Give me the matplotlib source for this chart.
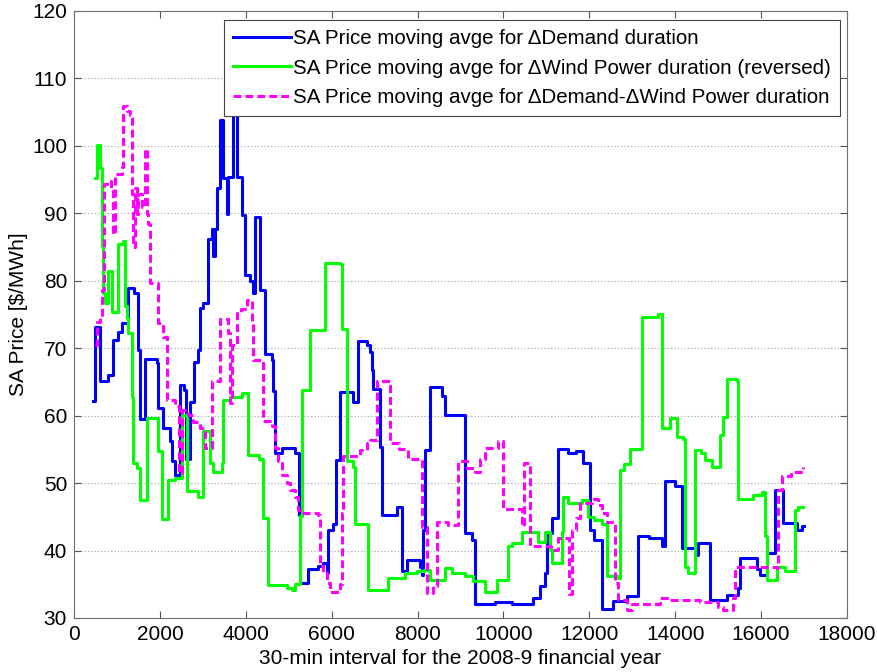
import matplotlib
matplotlib.use("Agg")
import matplotlib.pyplot as plt

plt.rcParams["font.family"] = ["Liberation Sans", "DejaVu Sans"]

# Moving averages of the SA price, stored as step breakpoints (interval index, $/MWh)
demand_x = [450, 489, 605, 800, 916, 1032, 1110, 1265, 1400, 1498, 1537, 1654, 1925, 1964,
            2080, 2236, 2275, 2352, 2469, 2560, 2600, 2700, 2802, 2895, 2934, 3012, 3128,
            3206, 3244, 3284, 3323, 3400, 3477, 3556, 3594, 3700, 3789, 3905, 3982, 4099,
            4176, 4215, 4332, 4448, 4600, 4640, 4681, 4837, 5147, 5230, 5263, 5457, 5690,
            5806, 5884, 5922, 6039, 6101, 6195, 6505, 6622, 6816, 6893, 6932, 6971, 7126,
            7165, 7515, 7631, 7748, 8058, 8097, 8135, 8175, 8291, 8563, 8640, 9106, 9260,
            9339, 9800, 10200, 10697, 10852, 10969, 11008, 11125, 11280, 11500, 11700,
            11862, 12017, 12100, 12289, 12560, 12871, 13142, 13400, 13686, 13763, 13996,
            14151, 14462, 14539, 14811, 15199, 15470, 15510, 15898, 15976, 16131, 16325,
            16519, 16830, 16946, 16990]
demand_y = [62.2, 73.2, 65.2, 66.0, 71.2, 72.4, 73.7, 78.9, 78.2, 69.7, 59.5, 68.4, 67.8, 61.2,
            58.2, 56.2, 53.2, 51.2, 64.5, 63.8, 53.5, 62.0, 68.0, 69.7, 75.9, 76.7, 86.2,
            87.7, 83.7, 87.7, 93.7, 103.9, 95.2, 89.9, 95.4, 108.0, 95.4, 89.7, 80.9, 79.9,
            78.2, 89.4, 78.7, 69.2, 68.2, 63.7, 54.5, 55.2, 54.5, 45.2, 35.2, 37.2, 37.7,
            38.1, 36.7, 43.1, 44.0, 53.4, 63.5, 62.0, 71.0, 70.4, 69.5, 66.7, 64.0, 55.4,
            45.3, 46.5, 36.9, 38.6, 37.5, 36.4, 43.1, 54.9, 64.2, 62.9, 60.1, 42.6, 41.6,
            32.0, 32.3, 32.1, 33.0, 34.7, 36.7, 42.6, 44.8, 55.0, 54.5, 54.7,
            53.0, 43.1, 41.6, 31.3, 32.5, 33.2, 42.1, 41.9, 40.6, 50.3, 49.5,
            40.4, 39.4, 41.1, 32.7, 33.4, 34.5, 38.9, 37.2, 36.4, 39.7, 49.0,
            44.1, 43.1, 43.6, 43.6]

wind_x = [489, 543, 605, 644, 683, 722, 800, 880, 1032, 1148, 1188, 1226, 1265, 1343, 1382,
          1460, 1537, 1692, 1963, 2042, 2197, 2352, 2508, 2624, 2895, 3012, 3167, 3245,
          3439, 3477, 3633, 3905, 4060, 4300, 4409, 4525, 4953, 5070, 5147, 5263, 5302,
          5496, 5850, 6195, 6233, 6350, 6505, 6544, 6855, 7321, 7709, 7981, 8150, 8291,
          8640, 8800, 9106, 9300, 9571, 9843, 10115, 10200, 10425, 10813, 10969, 11085,
          11125, 11358, 11396, 11500, 11823, 11978, 12100, 12289, 12405, 12677, 12715,
          12800, 12948, 13221, 13600, 13686, 13880, 14035, 14190, 14229, 14300, 14462,
          14600, 14700, 14850, 15044, 15122, 15199, 15432, 15470, 15800, 16015, 16092,
          16131, 16364, 16550, 16791, 16870, 16984]
wind_y = [95.2, 100.1, 96.7, 85.2, 78.2, 76.7, 81.4, 75.4, 85.4, 85.9, 76.2, 74.5, 72.2, 62.7,
          53.0, 52.2, 47.5, 59.6, 54.7, 44.6, 50.5, 50.7, 60.1, 48.8, 48.0, 57.7, 53.0, 51.7,
          53.0, 62.3, 62.8, 63.3, 54.2, 53.5, 44.8, 34.9, 34.4, 34.2, 35.0, 45.1, 63.8,
          72.7, 82.7, 82.5, 72.9, 53.2, 52.4, 44.0, 34.2, 35.9, 36.7, 36.9, 37.1, 35.7,
          37.4, 36.7, 36.2, 35.5, 33.9, 35.7, 40.6, 41.1, 42.8, 41.3, 42.8, 40.1,
          38.1, 42.8, 48.0, 47.0, 47.5, 45.0, 44.5, 44.0, 36.2, 36.0, 51.9,
          52.9, 55.1, 74.6, 75.1, 58.1, 59.6, 56.8, 56.6, 37.6, 36.7, 54.9,
          54.4, 53.4, 52.4, 57.1, 59.8, 65.5, 65.2, 47.7, 48.2, 48.7, 42.1,
          35.6, 37.6, 37.0, 46.0, 46.5, 46.5]

diff_x = [489, 530, 600, 644, 690, 760, 870, 916, 955, 1110, 1130, 1226, 1304, 1343, 1382,
          1420, 1460, 1498, 1576, 1654, 1692, 1730, 1770, 1963, 2080, 2158, 2350, 2440,
          2520, 2663, 2780, 2934, 3051, 3206, 3400, 3594, 3633, 3680, 3789, 3900, 4021,
          4138, 4176, 4409, 4620, 4681, 4760, 4837, 4950, 5030, 5150, 5225, 5302, 5690,
          5729, 5806, 5884, 5962, 6195, 6233, 6272, 6660, 6816, 6893, 7049, 7359, 7560,
          7786, 8097, 8213, 8368, 8446, 8700, 8950, 9150, 9339, 9455, 9571, 9882, 9998,
          10426, 10480, 10620, 11100, 11280, 11520, 11590, 11700, 11784, 12055, 12200,
          12289, 12400, 12599, 12677, 12871, 13000, 13647, 13880, 14578, 15005, 15122,
          15354, 15393, 16364, 16402, 16480, 16700, 16984]
diff_y = [70.5, 73.9, 74.9, 78.6, 94.3, 94.8, 93.8, 87.0, 95.8, 96.8, 105.9, 105.2, 104.6, 92.9,
          85.0, 93.8, 89.9, 92.9, 90.9, 99.5, 89.9, 88.4, 79.6, 73.7, 71.7, 62.3, 61.5, 51.5,
          60.8, 60.1, 59.1, 58.1, 55.2, 65.1, 74.4, 72.2, 61.9, 70.5, 75.2, 75.8, 77.2,
          73.7, 68.2, 59.2, 58.5, 55.2, 53.2, 51.2, 50.0, 49.0, 48.0, 46.0, 45.5, 45.3,
          37.7, 36.7, 35.2, 33.8, 35.0, 45.5, 54.0, 54.9, 55.9, 56.4, 65.2, 56.0, 55.0,
          53.5, 43.5, 33.7, 34.7, 44.3, 43.8, 53.2, 52.3, 51.7, 53.5, 55.2, 56.2, 46.1,
          43.6, 53.0, 40.6, 40.1, 41.9, 33.5, 43.1, 44.8, 47.0, 47.7, 46.7,
          45.5, 44.3, 35.2, 32.7, 31.2, 32.0, 33.0, 32.7, 32.4, 31.7, 31.2,
          33.0, 37.5, 37.4, 49.0, 51.0, 51.7, 52.4]

labels = [u"SA Price moving avge for \u0394Demand duration",
          u"SA Price moving avge for \u0394Wind Power duration (reversed)",
          u"SA Price moving avge for \u0394Demand-\u0394Wind Power duration"]

fig = plt.figure(figsize=(8.77, 6.72), dpi=100)
ax = fig.add_axes([0.0844, 0.0804, 0.8814, 0.9033])

ax.plot(demand_x, demand_y, drawstyle="steps-post", color="#0000ff", lw=2.2, label=labels[0])
ax.plot(wind_x, wind_y, drawstyle="steps-post", color="#00ff00", lw=2.2, label=labels[1])
ax.plot(diff_x, diff_y, drawstyle="steps-post", color="#ff00ff", lw=2.2,
        linestyle=(0, (2.6, 1.3)), label=labels[2])

ax.set_xlim(0, 18000)
ax.set_ylim(30, 120)
ax.set_xticks(range(0, 18001, 2000))
ax.set_yticks(range(30, 121, 10))
ax.yaxis.grid(True, linestyle=(0, (1, 2)), color="#a0a0a0", lw=0.8)
ax.tick_params(direction="in", top=True, right=True, labelsize=15, length=5,
               color="#555555", pad=5)
for s in ax.spines.values():
    s.set_color("#6e6e6e")

ax.set_xlabel("30-min interval for the 2008-9 financial year", fontsize=15, labelpad=4)
ax.set_ylabel(r"SA Price [\$/MWh]", fontsize=15, labelpad=3)

leg = ax.legend(loc="upper right", bbox_to_anchor=(0.991, 0.985), fontsize=14.8,
                handlelength=2.8, handletextpad=0.1, borderpad=0.45, labelspacing=0.5,
                fancybox=False, framealpha=1, edgecolor="#444444", borderaxespad=0)
leg.get_frame().set_linewidth(0.8)

fig.savefig("out.png", dpi=100)
